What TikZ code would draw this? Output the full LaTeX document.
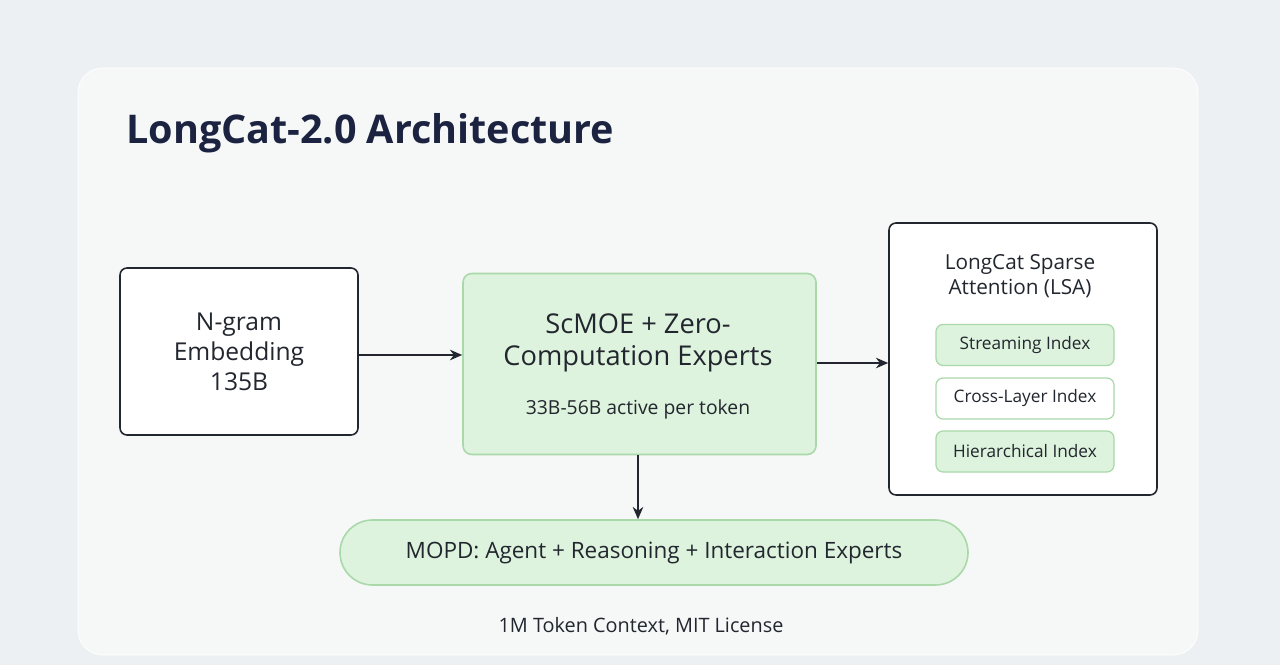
\documentclass[tikz,border=0pt]{standalone}
\usepackage{fontspec}
\setmainfont{Open Sans}
\usetikzlibrary{positioning,arrows.meta}
\definecolor{pagebg}{HTML}{EDF0F2}
\definecolor{cardbg}{HTML}{F6F8F8}
\definecolor{navy}{HTML}{1B2340}
\definecolor{ink}{HTML}{22262E}
\definecolor{mint}{HTML}{DDF3DD}
\definecolor{mintline}{HTML}{A9D8A9}
\tikzset{
  plain/.style={draw=ink, line width=0.9pt, fill=white, rounded corners=4pt, align=center, text=ink},
  greenbox/.style={draw=mintline, line width=0.9pt, fill=mint, rounded corners=5pt, align=center, text=ink},
  index/.style={draw=mintline, line width=0.7pt, rounded corners=4pt, minimum width=3.56cm, minimum height=0.82cm, text=ink, font=\fontsize{9.8}{11}\selectfont},
  flow/.style={-{Stealth[length=7pt,width=6pt]}, line width=0.9pt, draw=ink}
}
\begin{document}
\begin{tikzpicture}
  \fill[pagebg] (0,0) rectangle (25.6,13.3);
  \useasboundingbox (0,0) rectangle (25.6,13.3);
  \fill[cardbg, draw=white, rounded corners=14pt] (1.56,0.2) rectangle (23.96,11.94);
  \node[anchor=west, text=navy, font=\fontsize{22.5}{27}\selectfont\bfseries] (title) at (2.4,10.64) {LongCat-2.0 Architecture};
  % main blocks
  \node[plain, minimum width=4.76cm, minimum height=3.34cm, font=\fontsize{14}{17}\selectfont] (ngram) at (4.78,6.27) {N-gram\\Embedding\\135B};
  \node[greenbox, minimum width=7.06cm, minimum height=3.62cm] (moe) at (12.79,6.02) {};
  \node[text=ink, align=center, font=\fontsize{15.5}{18.5}\selectfont] (moetitle) at (12.76,6.44) {ScMOE + Zero-\\Computation Experts};
  \node[text=ink, font=\fontsize{11}{13}\selectfont] (moesub) at (12.76,5.12) {33B-56B active per token};
  \node[plain, minimum width=5.36cm, minimum height=5.44cm] (lsa) at (20.46,6.12) {};
  \node[text=ink, align=center, font=\fontsize{11.8}{14.5}\selectfont] (lsatitle) at (20.4,7.78) {LongCat Sparse\\Attention (LSA)};
  \node[index, fill=mint] (stream) at (20.5,6.4) {Streaming Index};
  \node[index, fill=white] (cross) at (20.5,5.33) {Cross-Layer Index};
  \node[index, fill=mint] (hier) at (20.5,4.27) {Hierarchical Index};
  \node[greenbox, rounded corners=0.65cm, minimum width=12.56cm, minimum height=1.3cm, font=\fontsize{12.8}{15}\selectfont] (mopd) at (13.08,2.25) {MOPD: Agent + Reasoning + Interaction Experts};
  \node[text=ink, font=\fontsize{11.3}{13}\selectfont] (footer) at (12.82,0.78) {1M Token Context, MIT License};
  % connectors
  \draw[flow] (ngram.east |- 0,6.2) -- (moe.west |- 0,6.2);
  \draw[flow] (moe.east |- 0,6.04) -- (lsa.west |- 0,6.04);
  \draw[flow] (moe.south -| 12.76,0) -- (mopd.north -| 12.76,0);
\end{tikzpicture}
\end{document}
